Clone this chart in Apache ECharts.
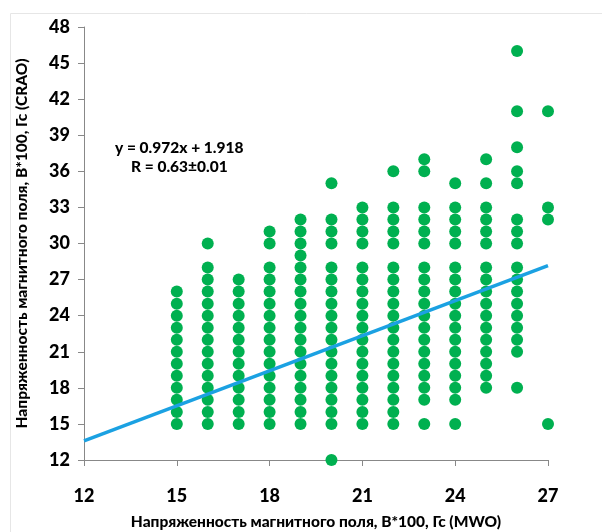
<!DOCTYPE html>
<html>
<head>
<meta charset="utf-8">
<script src="https://cdn.jsdelivr.net/npm/echarts@6/dist/echarts.min.js"></script>
<style>html,body{margin:0;padding:0;background:#fff;}#c{width:602px;height:532px;}</style>
</head>
<body>
<div id="c"></div>
<script>
// x categories (MWO) and the CRAO values observed at each
const xValues = [15, 16, 17, 18, 19, 20, 21, 22, 23, 24, 25, 26, 27];
const col15 = [26,25,24,23,22,21,20,19,18,17,16,15];
const col16 = [30,28,27,26,25,24,23,22,21,20,19,18,17,16,15];
const col17 = [27,26,25,24,23,22,21,20,19,18,17,16,15];
const col18 = [31,30,28,27,26,25,24,23,22,21,20,19,18,17,16,15];
const col19 = [32,31,30,29,28,27,26,25,24,23,22,21,20,19,18,17,16,15];
const col20 = [35,32,31,30,28,27,26,25,24,23,22,21,20,19,18,17,16,15,12];
const col21 = [33,32,31,30,28,27,26,25,24,23,22,21,20,19,18,17,16,15];
const col22 = [36,33,32,31,30,28,27,26,25,24,23,22,21,20,19,18,17,16,15];
const col23 = [37,36,33,32,31,30,28,27,26,25,24,23,22,21,20,19,18,17,15];
const col24 = [35,33,32,31,30,28,27,26,25,24,23,22,21,20,19,18,17,15];
const col25 = [37,35,33,32,31,30,28,27,26,25,24,23,22,21,20,19,18];
const col26 = [46,41,38,36,35,32,31,30,28,27,26,25,24,23,22,21,18];
const col27 = [41,33,32,15];
const columns = [col15,col16,col17,col18,col19,col20,col21,col22,col23,col24,col25,col26,col27];
// trend line y = 0.972x + 1.918
const slope = 0.972, intercept = 1.918;
const trendX = [12, 27];
const xTicks = [12, 15, 18, 21, 24, 27];
const yTicks = [12, 15, 18, 21, 24, 27, 30, 33, 36, 39, 42, 45, 48];

const points = [];
xValues.forEach((x, i) => columns[i].forEach(y => points.push([x, y])));
const trend = trendX.map(x => [x, slope * x + intercept]);

const chart = echarts.init(document.getElementById('c'), null, {renderer: 'canvas'});
const font = 'Lato, "Open Sans", sans-serif';
chart.setOption({
  animation: false,
  backgroundColor: '#fff',
  grid: {left: 84, right: 54, top: 27, bottom: 72, containLabel: false, outerBoundsMode: 'none'},
  graphic: [
    {type: 'rect', shape: {x: 10.5, y: 13.5, width: 620, height: 600}, style: {fill: 'none', stroke: '#e6e6e6', lineWidth: 1}, z: -1},
    {type: 'text', left: 178 - 63, top: 140, style: {text: 'y = 0.972x + 1.918', font: '900 15.5px ' + font, fill: '#000'}},
    {type: 'text', left: 178 - 47, top: 159, style: {text: 'R = 0.63±0.01', font: '900 15.5px ' + font, fill: '#000'}}
  ],
  xAxis: {
    type: 'value', min: 12, max: 27, interval: 3,
    name: 'Напряженность магнитного поля, B*100, Гс (MWO)',
    nameLocation: 'middle', nameGap: 54,
    nameTextStyle: {fontFamily: font, fontWeight: 900, fontSize: 15.5, color: '#000'},
    axisLine: {lineStyle: {color: '#888', width: 1}},
    axisTick: {show: true, length: 6, lineStyle: {color: '#888'}},
    axisLabel: {fontFamily: font, fontWeight: 900, fontSize: 18, color: '#000', margin: 27},
    splitLine: {show: false}
  },
  yAxis: {
    type: 'value', min: 12, max: 48, interval: 3,
    name: 'Напряженность магнитного поля, B*100, Гс (CRAO)',
    nameLocation: 'middle', nameGap: 54, nameRotate: 90,
    nameTextStyle: {fontFamily: font, fontWeight: 900, fontSize: 15.5, color: '#000'},
    axisLine: {show: true, lineStyle: {color: '#888', width: 1}},
    axisTick: {show: true, length: 6, lineStyle: {color: '#888'}},
    axisLabel: {fontFamily: font, fontWeight: 900, fontSize: 18, color: '#000', margin: 14},
    splitLine: {show: false}
  },
  series: [
    {type: 'scatter', data: points, symbol: 'circle', symbolSize: 12, itemStyle: {color: '#00B050', opacity: 1}, z: 2},
    {type: 'line', data: trend, symbol: 'none', lineStyle: {color: '#1BA1E2', width: 3.5}, z: 3}
  ]
});
</script>
</body>
</html>
